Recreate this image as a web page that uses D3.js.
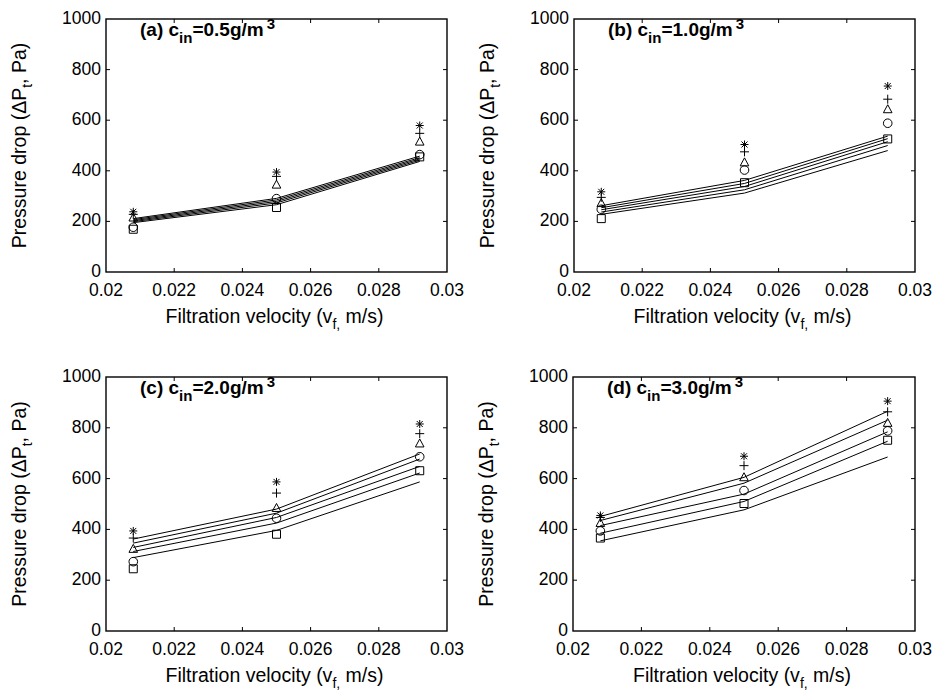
<!DOCTYPE html>
<html>
<head>
<meta charset="utf-8">
<script src="https://cdn.jsdelivr.net/npm/d3@7"></script>
<style>
  body { margin: 0; background: #fff; }
  svg { display: block; font-family: Arial, "Liberation Sans", sans-serif; }
</style>
</head>
<body>
<svg id="chart" width="939" height="691"></svg>
<script>
const W = 939;
const H = 691;

// filtration velocities (m/s)
const velocity = [0.0208, 0.025, 0.0292];
const xTicks = [0.02, 0.022, 0.024, 0.026, 0.028, 0.03];
const yTicks = [0, 200, 400, 600, 800, 1000];

const panelLabels = ["(a)", "(b)", "(c)", "(d)"];
const inletConc = ["0.5", "1.0", "2.0", "3.0"];

// marker order: square, circle, triangle, plus, star
const markerTypes = ["square", "circle", "triangle", "plus", "star"];

// measured pressure drop, one row per marker series
const measA = [[169, 255, 455], [177, 290, 464], [215, 345, 515], [228, 378, 548], [238, 395, 579]];
const measB = [[211, 353, 526], [248, 403, 588], [272, 433, 643], [295, 475, 683], [317, 504, 735]];
const measC = [[245, 381, 631], [273, 444, 686], [323, 484, 738], [366, 543, 777], [394, 587, 815]];
const measD = [[366, 502, 751], [394, 553, 788], [425, 605, 819], [447, 651, 863], [455, 688, 905]];

// model curves (solid lines)
const modelA = [[195, 266, 437], [199, 273, 442], [203, 279, 447], [207, 285, 452], [211, 291, 458]];
const modelB = [[228, 312, 480], [237, 325, 500], [246, 338, 515], [254, 350, 527], [262, 362, 537]];
const modelC = [[289, 396, 587], [313, 425, 622], [329, 447, 648], [346, 464, 677], [362, 480, 697]];
const modelD = [[355, 477, 685], [385, 510, 747], [415, 539, 784], [435, 582, 830], [451, 605, 865]];

const measured = [measA, measB, measC, measD];
const models = [modelA, modelB, modelC, modelD];

// plot boxes
const boxes = [
  { x0: 106, x1: 447, y0: 19, y1: 272 },
  { x0: 574, x1: 915, y0: 19, y1: 272 },
  { x0: 106, x1: 447, y0: 377, y1: 631 },
  { x0: 573, x1: 915, y0: 377, y1: 631 },
];

const svg = d3.select("#chart");

function markerPath(type) {
  switch (type) {
    case "square": return "M-4,-4H4V4H-4Z";
    case "circle": return "M4.3,0A4.3,4.3 0 1,1 -4.3,0A4.3,4.3 0 1,1 4.3,0Z";
    case "triangle": return "M0,-4.6L4.3,3.4H-4.3Z";
    case "plus": return "M-4.5,0H4.5M0,-4.5V4.5";
    case "star": return "M-4,0H4M0,-4V4M-3,-3L3,3M-3,3L3,-3";
  }
}

boxes.forEach((b, i) => {
  const g = svg.append("g");
  const x = d3.scaleLinear().domain([0.02, 0.03]).range([b.x0, b.x1]);
  const y = d3.scaleLinear().domain([0, 1000]).range([b.y1, b.y0]);

  // model lines
  const line = d3.line().x((d, j) => x(velocity[j])).y((d) => y(d));
  g.selectAll("path.model")
    .data(models[i])
    .join("path")
    .attr("class", "model")
    .attr("d", line)
    .attr("fill", "none")
    .attr("stroke", "#000")
    .attr("stroke-width", 1);

  // measured markers
  measured[i].forEach((series, s) => {
    g.selectAll(null)
      .data(series)
      .join("path")
      .attr("transform", (d, j) => `translate(${x(velocity[j])},${y(d)})`)
      .attr("d", markerPath(markerTypes[s]))
      .attr("fill", "none")
      .attr("stroke", "#000")
      .attr("stroke-width", 1);
  });

  // box
  g.append("rect")
    .attr("x", b.x0).attr("y", b.y0)
    .attr("width", b.x1 - b.x0).attr("height", b.y1 - b.y0)
    .attr("fill", "none").attr("stroke", "#000").attr("stroke-width", 1.4);

  // inward ticks on all four sides
  const tl = 4;
  xTicks.slice(1, -1).forEach((t) => {
    g.append("line").attr("x1", x(t)).attr("x2", x(t)).attr("y1", b.y1).attr("y2", b.y1 - tl).attr("stroke", "#000");
    g.append("line").attr("x1", x(t)).attr("x2", x(t)).attr("y1", b.y0).attr("y2", b.y0 + tl).attr("stroke", "#000");
  });
  yTicks.slice(1, -1).forEach((t) => {
    g.append("line").attr("x1", b.x0).attr("x2", b.x0 + tl).attr("y1", y(t)).attr("y2", y(t)).attr("stroke", "#000");
    g.append("line").attr("x1", b.x1).attr("x2", b.x1 - tl).attr("y1", y(t)).attr("y2", y(t)).attr("stroke", "#000");
  });

  // tick labels
  g.selectAll("text.xt")
    .data(xTicks)
    .join("text")
    .attr("class", "xt")
    .attr("x", (d) => x(d))
    .attr("y", b.y1 + 24)
    .attr("text-anchor", "middle")
    .attr("font-size", 17.5)
    .text((d) => d3.format("~g")(d));
  g.selectAll("text.yt")
    .data(yTicks)
    .join("text")
    .attr("class", "yt")
    .attr("x", b.x0 - 5)
    .attr("y", (d) => y(d) + 5)
    .attr("text-anchor", "end")
    .attr("font-size", 17.5)
    .text((d) => d);

  // x axis title
  const xt = g.append("text")
    .attr("x", (b.x0 + b.x1) / 2 - 2)
    .attr("y", b.y1 + 51)
    .attr("text-anchor", "middle")
    .attr("font-size", 19.5);
  xt.append("tspan").text("Filtration velocity (v");
  xt.append("tspan").attr("dy", 6).attr("font-size", 14).text("f,");
  xt.append("tspan").attr("dy", -6).text(" m/s)");

  // y axis title
  const yc = (b.y0 + b.y1) / 2;
  const yx = b.x0 - 80;
  const yt = g.append("text")
    .attr("transform", `translate(${yx},${yc}) rotate(-90)`)
    .attr("text-anchor", "middle")
    .attr("font-size", 19.5);
  yt.append("tspan").text("Pressure drop (\u0394P");
  yt.append("tspan").attr("dy", 6).attr("font-size", 14).text("t");
  yt.append("tspan").attr("dy", -6).text(", Pa)");

  // panel title
  const pt = g.append("text")
    .attr("x", b.x0 + 34)
    .attr("y", b.y0 + 17)
    .attr("font-size", 19)
    .attr("font-weight", "bold");
  pt.append("tspan").text(panelLabels[i] + " c");
  pt.append("tspan").attr("dy", 7).attr("font-size", 15).text("in");
  pt.append("tspan").attr("dy", -7).text("=" + inletConc[i] + "g/m");
  pt.append("tspan").attr("dy", -7).attr("dx", 3).attr("font-size", 15).text("3");
});
</script>
</body>
</html>
